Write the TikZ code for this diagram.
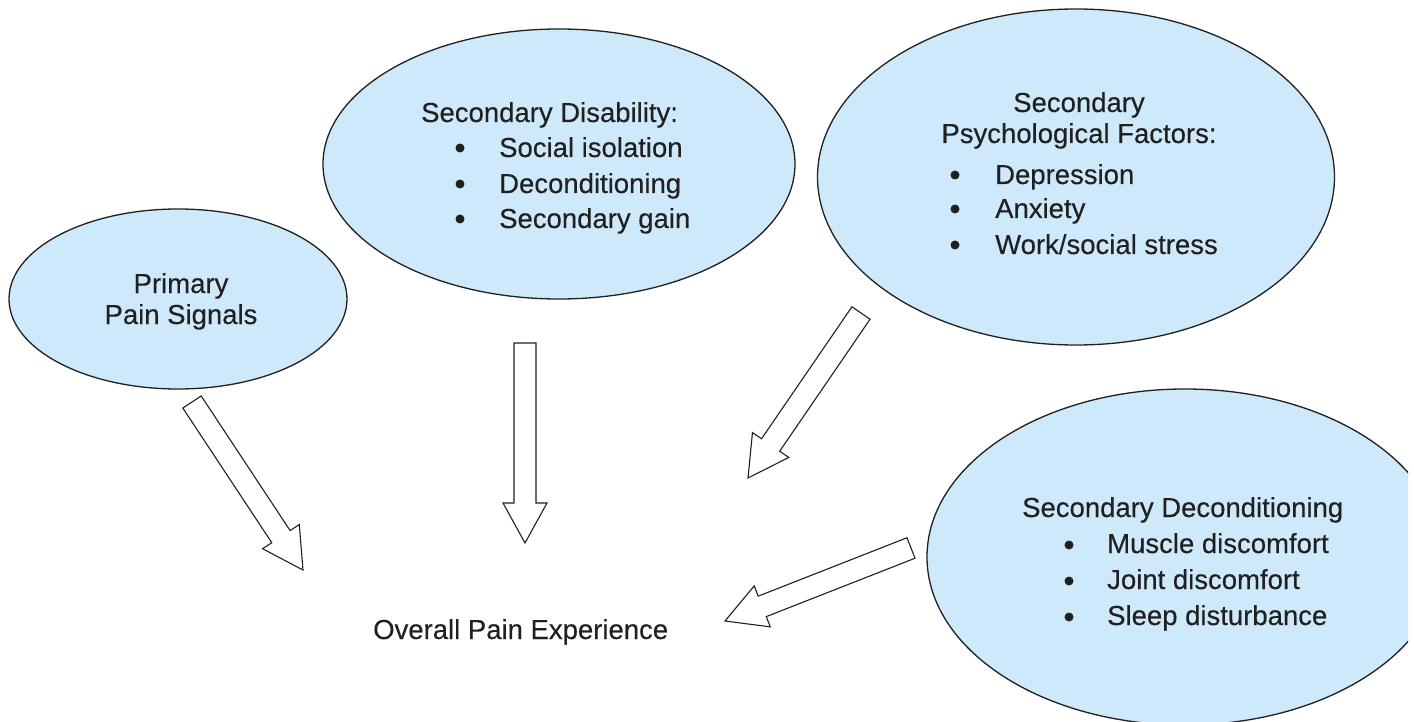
\documentclass[tikz,border=0pt]{standalone}
\usepackage{fontspec}
\setmainfont{Liberation Sans}[FakeBold=0.25]
\usetikzlibrary{calc,shapes.geometric}
\definecolor{ellfill}{RGB}{206,233,250}
\definecolor{inkc}{RGB}{32,32,32}
\newcommand\blockarrow[2]{%
  \draw[blockarr] let \p1=($(#2)-(#1)$), \n1={atan2(\y1,\x1)}, \n2={veclen(\x1,\y1)} in
    [shift={(#1)}, rotate=\n1]
    (0pt,-11pt) -- ({\n2-40pt},-11pt) -- ({\n2-40pt},-22pt) -- (\n2,0pt)
    -- ({\n2-40pt},22pt) -- ({\n2-40pt},11pt) -- (0pt,11pt) -- cycle;}
\begin{document}
\begin{tikzpicture}[x=1pt,y=-1pt,
  bubble/.style={ellipse, draw=inkc, fill=ellfill, line width=1.3pt, inner sep=0pt},
  txt/.style={anchor=base west, inner sep=0pt, text=inkc, font=\fontsize{27.5}{33}\selectfont},
  ctxt/.style={txt, anchor=base},
  bul/.style={circle, fill=inkc, minimum size=9pt, inner sep=0pt},
  blockarr/.style={draw=inkc, line width=1.1pt, fill=white, line join=miter}]
\useasboundingbox (0,0) rectangle (1414,722);
\clip (0,0) rectangle (1408,722);
% ellipses
\node[bubble, minimum width=338pt, minimum height=180pt] (prim) at (178,299) {};
\node[bubble, minimum width=472pt, minimum height=270pt] (disab) at (559,164) {};
\node[bubble, minimum width=517pt, minimum height=336pt] (psych) at (1076,177) {};
\node[bubble, minimum width=516pt, minimum height=336pt] (decond) at (1185,557) {};
% primary
\node[ctxt] (p1) at (181,293) {Primary};
\node[ctxt] (p2) at (181,324) {Pain Signals};
% disability
\node[txt] (d0) at (421,122) {Secondary Disability:};
\node[bul] (db1) at (460,148) {};
\node[bul] (db2) at (460,184) {};
\node[bul] (db3) at (460,219) {};
\node[txt] (d1) at (499,157) {Social isolation};
\node[txt] (d2) at (499,193) {Deconditioning};
\node[txt] (d3) at (499,228) {Secondary gain};
% psychological
\node[ctxt] (s0) at (1079,112) {Secondary};
\node[ctxt] (s1) at (1079,143) {Psychological Factors:};
\node[bul] (sb1) at (955,175) {};
\node[bul] (sb2) at (955,209) {};
\node[bul] (sb3) at (955,245) {};
\node[txt] (s2) at (995,184) {Depression};
\node[txt] (s3) at (995,218) {Anxiety};
\node[txt] (s4) at (995,254) {Work/social stress};
% deconditioning
\node[txt] (c0) at (1022,517) {Secondary Deconditioning};
\node[bul] (cb1) at (1069,545) {};
\node[bul] (cb2) at (1069,581) {};
\node[bul] (cb3) at (1069,617) {};
\node[txt] (c1) at (1107,553) {Muscle discomfort};
\node[txt] (c2) at (1107,589) {Joint discomfort};
\node[txt] (c3) at (1107,625) {Sleep disturbance};
% outcome
\node[txt] (over) at (373,639) {Overall Pain Experience};
% arrows
\coordinate (a1s) at (192,402); \coordinate (a1e) at (303,570);
\coordinate (a2s) at (525,343); \coordinate (a2e) at (525,543);
\coordinate (a3s) at (861,313); \coordinate (a3e) at (748,478);
\coordinate (a4s) at (911,548); \coordinate (a4e) at (725,621);
\blockarrow{a1s}{a1e}
\blockarrow{a2s}{a2e}
\blockarrow{a3s}{a3e}
\blockarrow{a4s}{a4e}
\end{tikzpicture}
\end{document}
